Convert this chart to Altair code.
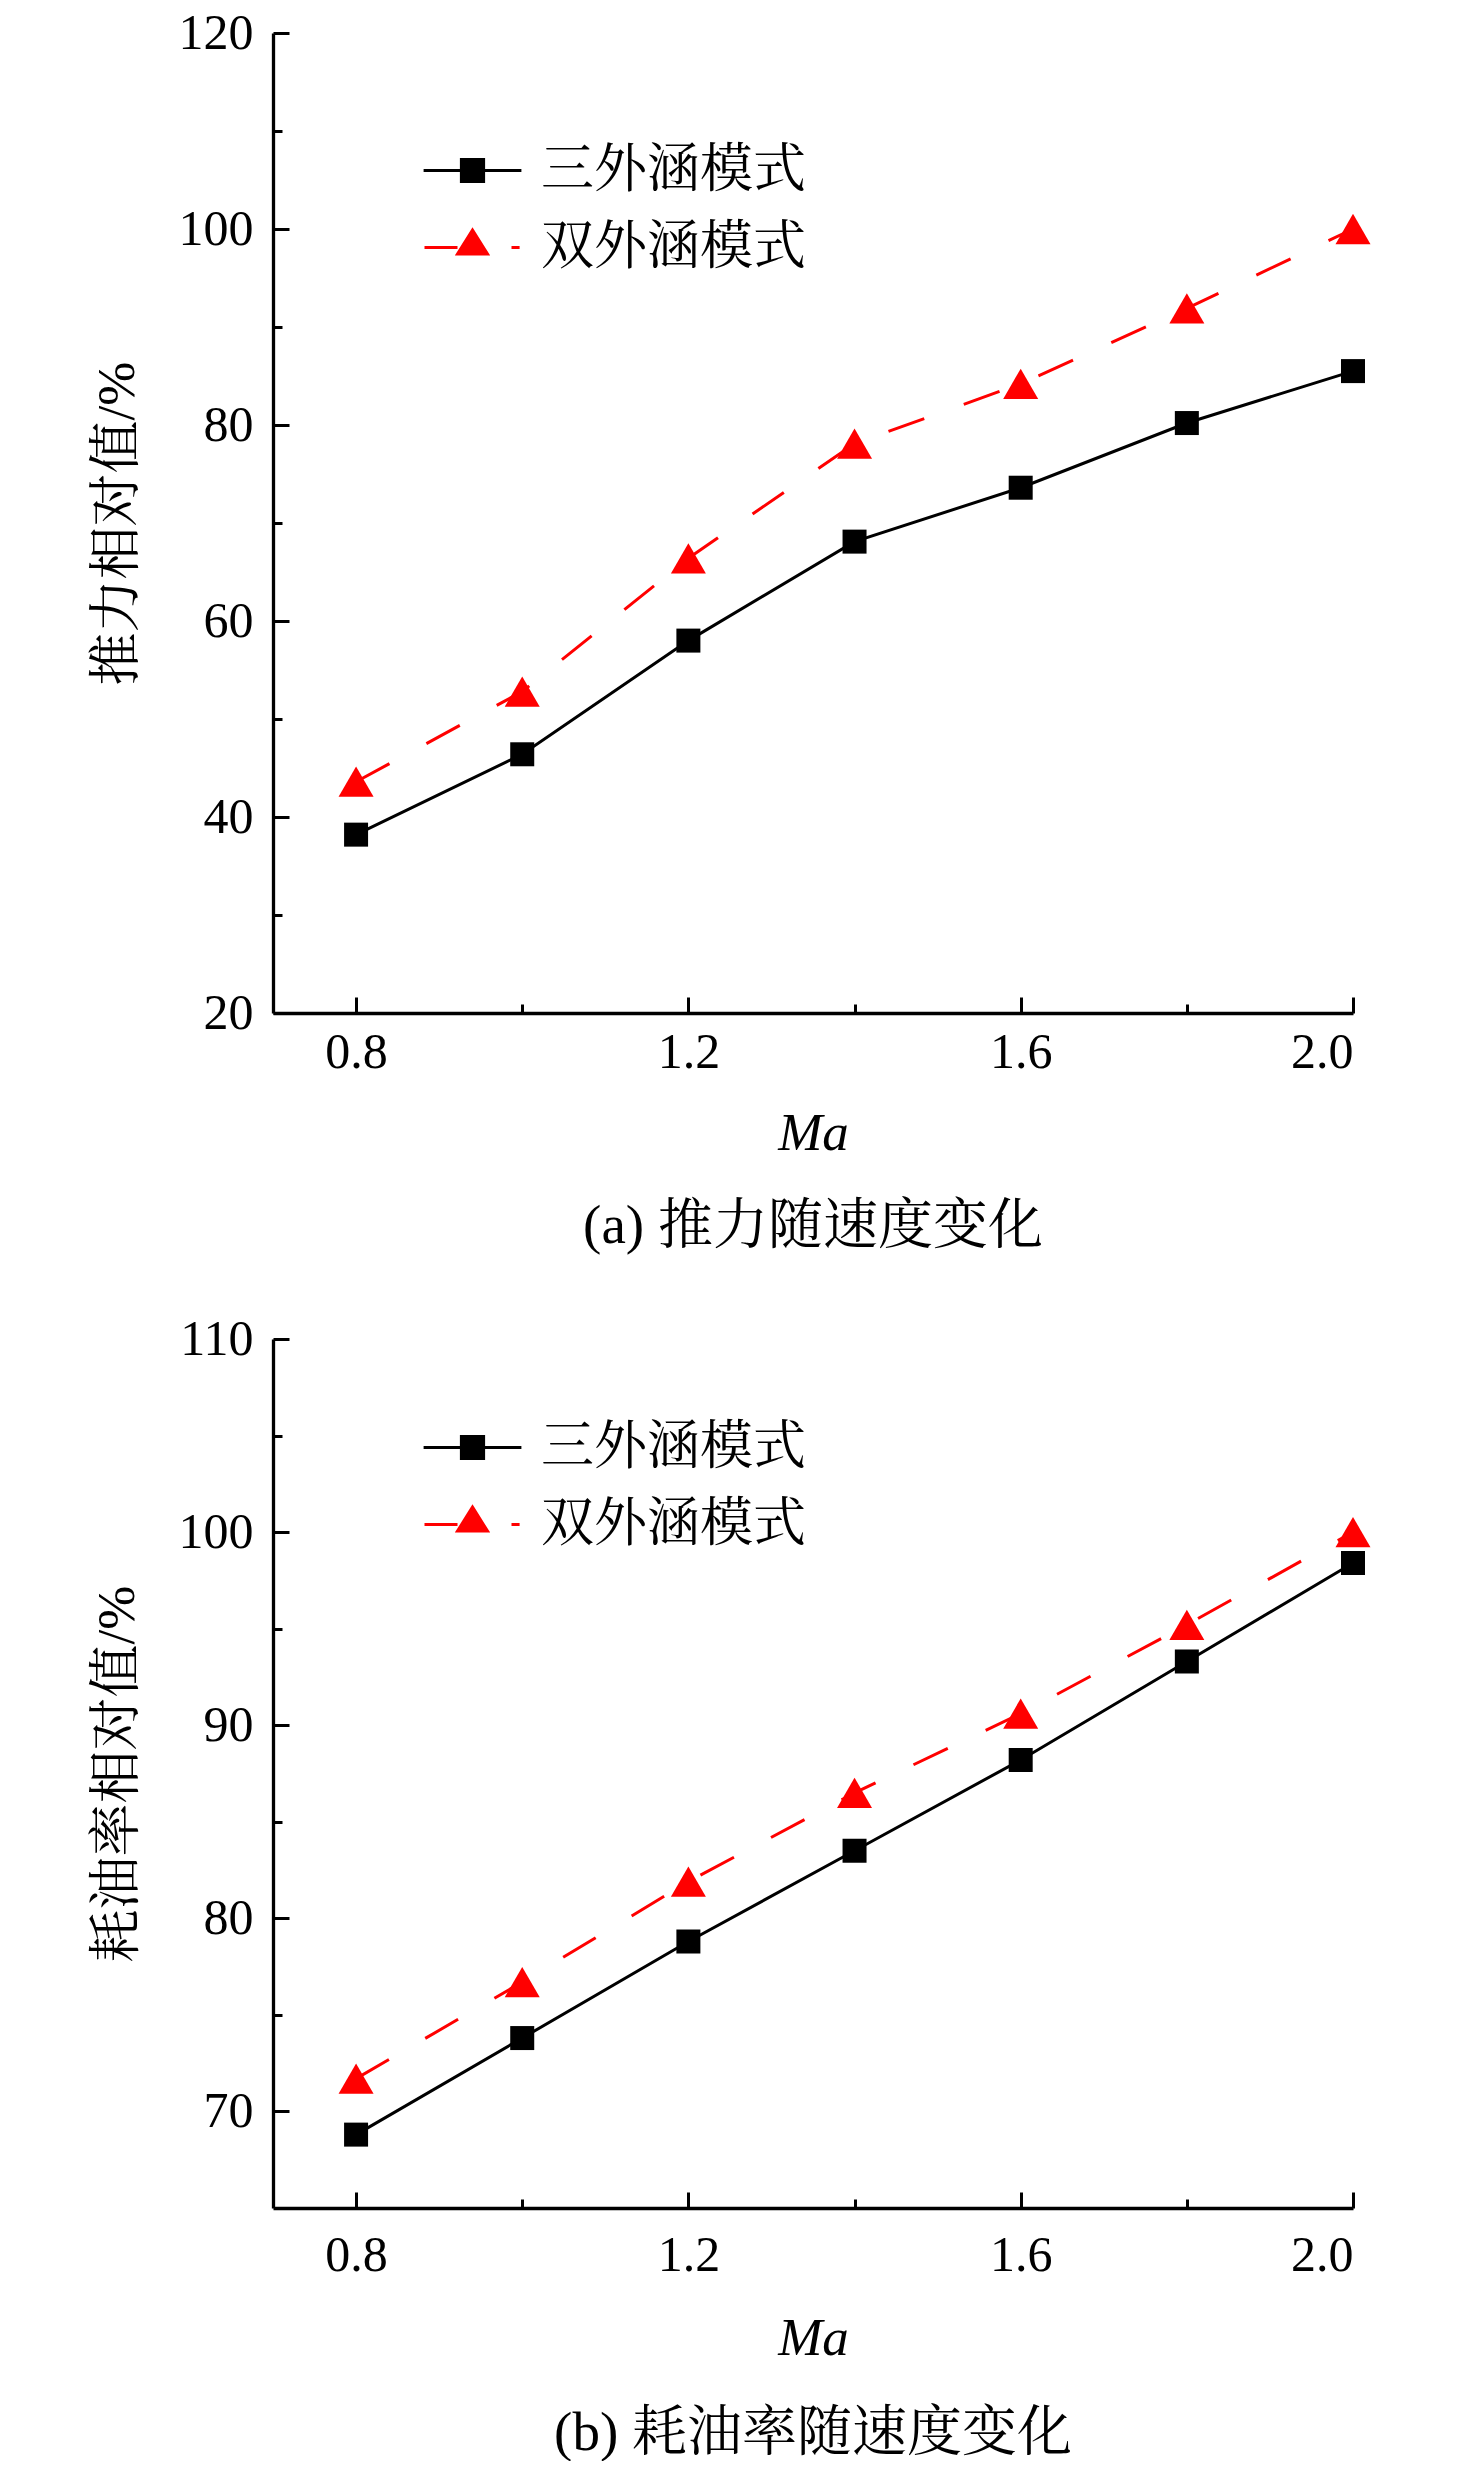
import altair as alt
import pandas as pd

# data
mach = [0.8, 1.0, 1.2, 1.4, 1.6, 1.8, 2.0]
series = ["三外涵模式", "双外涵模式"]
thrust_triple = [38.2, 46.4, 58.0, 68.1, 73.6, 80.2, 85.5]
thrust_double = [43.6, 52.8, 66.4, 78.1, 84.2, 91.9, 100.0]
sfc_triple = [68.8, 73.8, 78.8, 83.5, 88.2, 93.3, 98.4]
sfc_double = [71.7, 76.7, 81.9, 86.5, 90.6, 95.2, 100.0]

x_labels = [0.8, 1.2, 1.6, 2.0]
x_minor = [1.0, 1.4, 1.8]
thrust_labels = [20, 40, 60, 80, 100, 120]
thrust_minor = [30, 50, 70, 90, 110]
sfc_labels = [70, 80, 90, 100, 110]
sfc_minor = [75, 85, 95, 105]

colors = ["#000000", "#ff0000"]
FONT = "Liberation Serif, Noto Serif CJK SC, Noto Sans CJK SC"
W = 1080

# legend symbols: line + marker, drawn as one custom path each
sym_square = "M-1.63,0L1.63,0M-0.37,-0.37L0.37,-0.37L0.37,0.37L-0.37,0.37Z"
sym_triangle = "M-1.6,0L-0.5,0M1.3,0L1.57,0M0,-0.58L0.5,0.22L-0.5,0.22Z"


def make_df(a, b):
    rows = []
    for m, v in zip(mach, a):
        rows.append({"Ma": m, "value": v, "series": series[0]})
    for m, v in zip(mach, b):
        rows.append({"Ma": m, "value": v, "series": series[1]})
    return pd.DataFrame(rows)


def tick_axis(orient, offset, values, size):
    # inward ticks: an axis on the far side, pulled back onto the near edge
    return alt.Axis(orient=orient, offset=offset, values=values, labels=False,
                    domain=False, title=None, tickSize=size)


def panel(df, y_title, y_domain, y_labels, y_minor, caption, height, legend_y,
          label_pad, title_pad, cap_offset):
    base = alt.Chart(df)
    xs = alt.Scale(domain=[0.7, 2.0], nice=False, zero=False)
    ys = alt.Scale(domain=y_domain, nice=False, zero=False)

    main_x = alt.Axis(
        values=x_labels, format=".1f", ticks=False, title="Ma",
        titleFontStyle="italic", titlePadding=title_pad, labelPadding=label_pad,
    )
    main_y = alt.Axis(values=y_labels, ticks=False, title=y_title, labelPadding=20, titlePadding=34)

    line_a = base.transform_filter(alt.datum.series == series[0]).mark_line(
        strokeWidth=3, color=colors[0]
    ).encode(
        x=alt.X("Ma:Q", scale=xs, axis=main_x),
        y=alt.Y("value:Q", scale=ys, axis=main_y),
    )

    line_b = base.transform_filter(alt.datum.series == series[1]).mark_line(
        strokeWidth=3, color=colors[1], strokeDash=[38, 42]
    ).encode(
        x=alt.X("Ma:Q", scale=xs, axis=None),
        y=alt.Y("value:Q", scale=ys, axis=None),
    )

    # layer that only carries the legend (its tiny points sit under the markers)
    leg = alt.Legend(orient="none", legendX=168, legendY=legend_y, title=None,
                     symbolOpacity=1, labelLimit=600)
    color_scale = alt.Scale(domain=series, range=colors)
    legend_layer = base.mark_point(filled=True, size=1, strokeWidth=3).encode(
        x=alt.X("Ma:Q", scale=xs, axis=None),
        y=alt.Y("value:Q", scale=ys, axis=None),
        shape=alt.Shape("series:N", scale=alt.Scale(domain=series, range=[sym_square, sym_triangle]),
                        legend=leg),
        fill=alt.Fill("series:N", scale=color_scale, legend=leg),
        stroke=alt.Stroke("series:N", scale=color_scale, legend=leg),
    )

    squares = base.transform_filter(alt.datum.series == series[0]).mark_point(
        shape="square", filled=True, size=576, opacity=1, color=colors[0]
    ).encode(
        x=alt.X("Ma:Q", scale=xs, axis=tick_axis("top", -height, x_labels, 16)),
        y=alt.Y("value:Q", scale=ys, axis=tick_axis("right", -W, y_labels, 16)),
    )

    triangles = base.transform_filter(alt.datum.series == series[1]).mark_point(
        shape="triangle-up", filled=True, size=1225, opacity=1, color=colors[1]
    ).encode(
        x=alt.X("Ma:Q", scale=xs, axis=tick_axis("top", -height, x_minor, 9)),
        y=alt.Y("value:Q", scale=ys, axis=tick_axis("right", -W, y_minor, 9)),
    )

    return alt.layer(line_a, line_b, legend_layer, squares, triangles).resolve_axis(
        x="independent", y="independent"
    ).properties(
        width=W,
        height=height,
        title=alt.TitleParams(
            caption, orient="bottom", anchor="middle", frame="group",
            font=FONT, fontSize=55, fontWeight="normal", offset=cap_offset, color="black",
        ),
    )


top = panel(make_df(thrust_triple, thrust_double), "推力相对值/%", [20, 120],
            thrust_labels, thrust_minor, "(a) 推力随速度变化", 980, 106, 14, 30, 40)
bottom = panel(make_df(sfc_triple, sfc_double), "耗油率相对值/%", [65, 110],
               sfc_labels, sfc_minor, "(b) 耗油率随速度变化", 869, 77, 22, 32, 42)

chart = alt.vconcat(top, bottom, spacing=60).resolve_scale(
    fill="independent", stroke="independent", shape="independent",
).resolve_legend(
    fill="independent", stroke="independent", shape="independent",
).properties(
    padding={"left": 83, "top": 0, "right": 20, "bottom": 0}
).configure_view(stroke=None).configure_axis(
    labelFont=FONT, labelFontSize=50, labelColor="black",
    titleFont=FONT, titleFontSize=53, titleFontWeight="normal", titleColor="black",
    domainColor="black", domainWidth=3.3, tickColor="black", tickWidth=3, grid=False,
).configure_legend(
    labelFont=FONT, labelFontSize=53, labelColor="black", labelOffset=37,
    symbolSize=3600, symbolStrokeWidth=3, rowPadding=18, labelLimit=600,
)

chart.save("out.html", embed_options={"renderer": "svg", "actions": False})
